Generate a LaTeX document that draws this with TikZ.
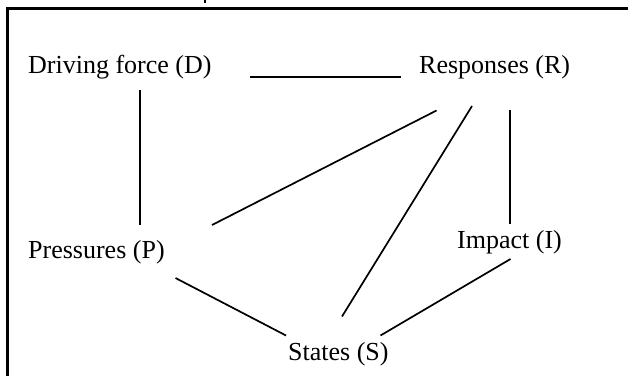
\documentclass[tikz,border=0pt]{standalone}
\usepackage{fontspec}
\setmainfont{Liberation Serif}
\begin{document}
\begin{tikzpicture}[x=1pt,y=-1pt,
  lbl/.style={anchor=base west,inner sep=0pt,font=\fontsize{26}{30}\selectfont},
  conn/.style={line width=1.7pt},
  frame/.style={line width=2.2pt}]
\useasboundingbox (0,0) rectangle (628,376);
\draw[frame] (7.5,376) -- (7.5,8.5) -- (628,8.5);
\draw[line width=1.4pt] (205,0) -- (205,3);
\node[lbl] (D) at (28,73) {Driving force (D)};
\node[lbl] (R) at (419,73) {Responses (R)};
\node[lbl] (P) at (28,258) {Pressures (P)};
\node[lbl] (I) at (457,248) {Impact (I)};
\node[lbl] (S) at (288,360) {States (S)};
% connector end points
\coordinate (dR) at (250,77);   \coordinate (rD) at (401,77);
\coordinate (dP) at (140,90);   \coordinate (pD) at (140,225);
\coordinate (rP) at (436.5,110.5); \coordinate (pR) at (212,225);
\coordinate (rS) at (472,106);  \coordinate (sR) at (342,316.5);
\coordinate (rI) at (510,110);  \coordinate (iR) at (510,224);
\coordinate (pS) at (175.5,278); \coordinate (sP) at (286,335.5);
\coordinate (iS) at (510.5,259); \coordinate (sI) at (380.5,335.5);
\draw[conn] (dR) -- (rD);
\draw[conn] (dP) -- (pD);
\draw[conn] (rP) -- (pR);
\draw[conn] (rS) -- (sR);
\draw[conn] (rI) -- (iR);
\draw[conn] (pS) -- (sP);
\draw[conn] (iS) -- (sI);
\end{tikzpicture}
\end{document}
